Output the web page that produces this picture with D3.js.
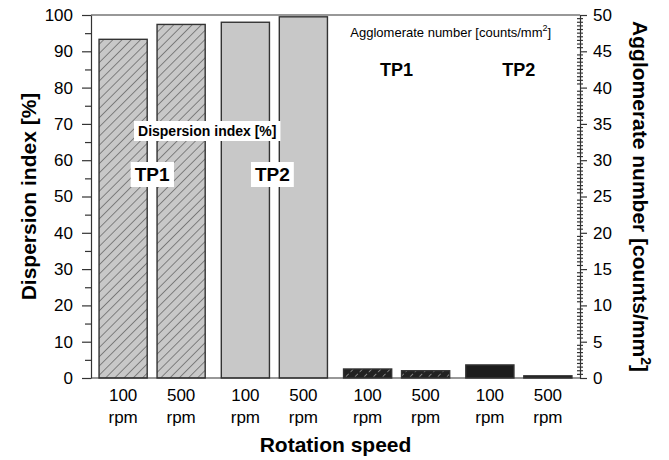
<!DOCTYPE html>
<html>
<head>
<meta charset="utf-8">
<script src="https://cdn.jsdelivr.net/npm/d3@7"></script>
<style>
  body { margin: 0; background: #fff; }
  svg { display: block; font-family: Arial, "Liberation Sans", sans-serif; }
  .axis text { font-size: 17px; fill: #000; }
  .axis path, .axis line { stroke: #333; stroke-width: 1.2; }
  .axis-title { font-size: 21px; font-weight: bold; fill: #000; }
</style>
</head>
<body>
<svg id="chart"></svg>
<script>
// Data
const speeds = ['100 rpm', '500 rpm'];
const groups = ['TP1 dispersion', 'TP2 dispersion', 'TP1 agglomerate', 'TP2 agglomerate'];
const dispersionTP1 = [93.3, 97.4];
const dispersionTP2 = [98.0, 99.5];
const agglomerateTP1 = [1.24, 1.0];
const agglomerateTP2 = [1.8, 0.3];
const leftTicks = [0, 10, 20, 30, 40, 50, 60, 70, 80, 90, 100];
const leftMinorTicks = [5, 15, 25, 35, 45, 55, 65, 75, 85, 95];
const rightTicks = [0, 5, 10, 15, 20, 25, 30, 35, 40, 45, 50];

const rows = [];
[dispersionTP1, dispersionTP2, agglomerateTP1, agglomerateTP2].forEach((vals, gi) => {
  vals.forEach((v, si) => rows.push({group: groups[gi], speed: speeds[si], value: v, axis: gi < 2 ? 'left' : 'right'}));
});

const config = {
  containerWidth: 669,
  containerHeight: 460,
  margin: {top: 15, right: 89, bottom: 82, left: 91}
};
const width = config.containerWidth - config.margin.left - config.margin.right;
const height = config.containerHeight - config.margin.top - config.margin.bottom;

const svg = d3.select('#chart')
    .attr('width', config.containerWidth)
    .attr('height', config.containerHeight);

// hatch patterns
const defs = svg.append('defs');
const grayHatch = defs.append('pattern')
    .attr('id', 'grayHatch')
    .attr('patternUnits', 'userSpaceOnUse')
    .attr('width', 6.5).attr('height', 6.5)
    .attr('patternTransform', 'rotate(45)');
grayHatch.append('rect').attr('width', 6.5).attr('height', 6.5).attr('fill', '#c8c8c8');
grayHatch.append('line').attr('x1', 0).attr('y1', 0).attr('x2', 0).attr('y2', 6.5)
    .attr('stroke', '#333').attr('stroke-width', 1);

const darkHatch = defs.append('pattern')
    .attr('id', 'darkHatch')
    .attr('patternUnits', 'userSpaceOnUse')
    .attr('width', 6.5).attr('height', 6.5)
    .attr('patternTransform', 'rotate(45)');
darkHatch.append('rect').attr('width', 6.5).attr('height', 6.5).attr('fill', '#222');
darkHatch.append('line').attr('x1', 0).attr('y1', 0).attr('x2', 0).attr('y2', 4)
    .attr('stroke', '#ddd').attr('stroke-width', 1);

const fills = {
  'TP1 dispersion': 'url(#grayHatch)',
  'TP2 dispersion': '#c8c8c8',
  'TP1 agglomerate': 'url(#darkHatch)',
  'TP2 agglomerate': '#1c1c1c'
};

const chart = svg.append('g')
    .attr('transform', `translate(${config.margin.left},${config.margin.top})`);

// scales
const x0 = d3.scaleBand().domain(groups).range([0, width]);
const half = 58;
const x1 = d3.scaleBand().domain(speeds)
    .range([x0.bandwidth() / 2 - half, x0.bandwidth() / 2 + half])
    .paddingInner(0.17)
    .paddingOuter(0.085);
const yLeft = d3.scaleLinear().domain([0, 100]).range([height, 0]);
const yRight = d3.scaleLinear().domain([0, 50]).range([height, 0]);

// top frame line
chart.append('line')
    .attr('x1', 0).attr('x2', width).attr('y1', 0).attr('y2', 0)
    .attr('stroke', '#333').attr('stroke-width', 1.2);

// bars
chart.selectAll('.bar')
    .data(rows)
  .join('rect')
    .attr('class', 'bar')
    .attr('x', d => x0(d.group) + x1(d.speed))
    .attr('width', x1.bandwidth())
    .attr('y', d => (d.axis === 'left' ? yLeft : yRight)(d.value))
    .attr('height', d => height - (d.axis === 'left' ? yLeft : yRight)(d.value))
    .attr('fill', d => fills[d.group])
    .attr('stroke', '#333')
    .attr('stroke-width', 1.4);

// x axis line
chart.append('line')
    .attr('x1', 0).attr('x2', width).attr('y1', height).attr('y2', height)
    .attr('stroke', '#333').attr('stroke-width', 1.2);

// left axis
chart.append('g')
    .attr('class', 'axis')
    .call(d3.axisLeft(yLeft).tickValues(leftTicks).tickSize(9).tickPadding(9).tickSizeOuter(0));
chart.append('g')
    .attr('class', 'axis')
    .call(d3.axisLeft(yLeft).tickValues(leftMinorTicks).tickSize(6).tickFormat(''))
    .call(g => g.select('.domain').remove());

// right axis
chart.append('g')
    .attr('class', 'axis')
    .attr('transform', `translate(${width},0)`)
    .call(d3.axisRight(yRight).tickValues(rightTicks).tickSize(7).tickPadding(6).tickSizeOuter(0));
chart.append('g')
    .attr('class', 'axis')
    .attr('transform', `translate(${width},0)`)
    .selectAll('line')
    .data(yRight.ticks(100).filter(t => t % 5 !== 0))
  .join('line')
    .attr('x1', -3).attr('x2', 3)
    .attr('y1', d => yRight(d)).attr('y2', d => yRight(d));

// category labels
const catLabels = chart.append('g').selectAll('text')
    .data(rows)
  .join('text')
    .attr('text-anchor', 'middle')
    .attr('font-size', 17)
    .attr('x', d => x0(d.group) + x1(d.speed) + x1.bandwidth() / 2)
    .attr('y', height + 23);
catLabels.append('tspan').text(d => d.speed.split(' ')[0]);
catLabels.append('tspan')
    .attr('x', d => x0(d.group) + x1(d.speed) + x1.bandwidth() / 2)
    .attr('dy', 22)
    .text(d => d.speed.split(' ')[1]);

// axis titles
chart.append('text')
    .attr('class', 'axis-title')
    .attr('x', width / 2)
    .attr('y', height + 74)
    .attr('text-anchor', 'middle')
    .text('Rotation speed');

chart.append('text')
    .attr('class', 'axis-title')
    .attr('transform', `translate(${36 - config.margin.left},${height / 2}) rotate(-90)`)
    .attr('text-anchor', 'middle')
    .text('Dispersion index [%]');

const rTitle = chart.append('text')
    .attr('class', 'axis-title')
    .attr('transform', `translate(${633 - config.margin.left},${height / 2}) rotate(90)`)
    .attr('text-anchor', 'middle');
rTitle.append('tspan').text('Agglomerate number [counts/mm');
rTitle.append('tspan').attr('font-size', 14).attr('dy', -8).text('2');
rTitle.append('tspan').attr('dy', 8).text(']');

// in-plot annotations with white boxes
function boxedLabel(text, cx, baseline, size) {
  const g = chart.append('g');
  const t = g.append('text')
      .attr('x', cx).attr('y', baseline)
      .attr('text-anchor', 'middle')
      .attr('font-size', size)
      .attr('font-weight', 'bold')
      .text(text);
  const bb = t.node().getBBox();
  g.insert('rect', 'text')
      .attr('x', bb.x - 4).attr('y', bb.y - 2)
      .attr('width', bb.width + 8).attr('height', bb.height + 4)
      .attr('fill', '#fff');
}
const gc = g => x0(g) + x0.bandwidth() / 2;
boxedLabel('Dispersion index [%]', (gc(groups[0]) + gc(groups[1])) / 2 - 6, 136 - config.margin.top, 14);
boxedLabel('TP1', gc(groups[0]), 181 - config.margin.top, 19);
boxedLabel('TP2', gc(groups[1]) - 2, 181 - config.margin.top, 19);

const aggTitle = chart.append('text')
    .attr('x', (gc(groups[2]) + gc(groups[3])) / 2 - 7)
    .attr('y', 37 - config.margin.top)
    .attr('text-anchor', 'middle')
    .attr('font-size', 13);
aggTitle.append('tspan').text('Agglomerate number [counts/mm');
aggTitle.append('tspan').attr('font-size', 9).attr('dy', -6).text('2');
aggTitle.append('tspan').attr('dy', 6).text(']');

chart.append('text')
    .attr('x', gc(groups[2])).attr('y', 76 - config.margin.top)
    .attr('text-anchor', 'middle').attr('font-size', 18).attr('font-weight', 'bold')
    .text('TP1');
chart.append('text')
    .attr('x', gc(groups[3])).attr('y', 76 - config.margin.top)
    .attr('text-anchor', 'middle').attr('font-size', 18).attr('font-weight', 'bold')
    .text('TP2');
</script>
</body>
</html>
